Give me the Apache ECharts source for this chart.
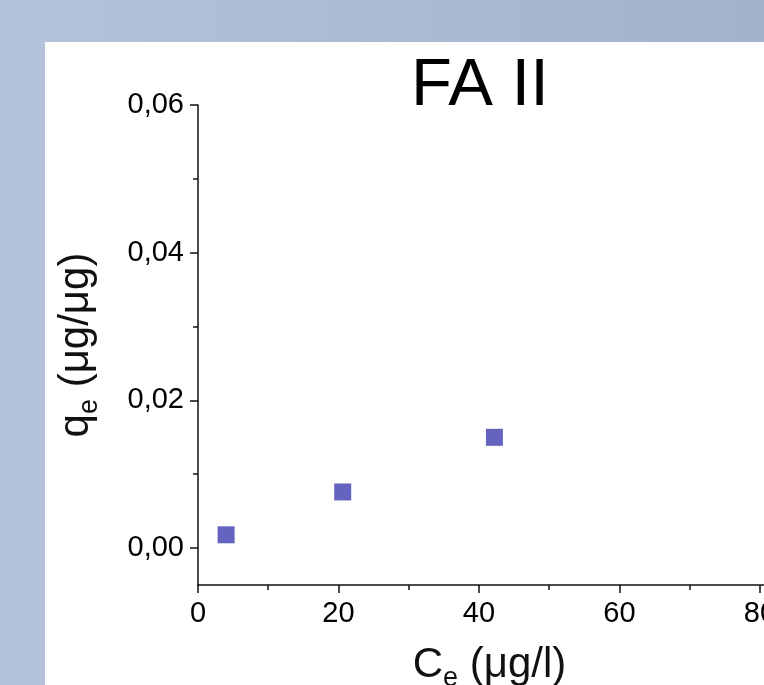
<!DOCTYPE html>
<html>
<head>
<meta charset="utf-8">
<script src="https://cdn.jsdelivr.net/npm/echarts@6/dist/echarts.min.js"></script>
<style>
  html, body { margin: 0; padding: 0; overflow: hidden; }
  #chart { width: 764px; height: 685px; }
</style>
</head>
<body>
<div id="chart"></div>
<script>
// data
const ceValues = [4, 20.6, 42.2];           // C_e (µg/l)
const qeValues = [0.0018, 0.0076, 0.0150];  // q_e (µg/µg)
const xMajorTicks = [0, 20, 40, 60, 80];
const xMinorTicks = [10, 30, 50, 70];
const yMajorTicks = [0, 0.02, 0.04, 0.06];
const yMinorTicks = [0.01, 0.03, 0.05];

const font = 'Liberation Sans';
const ink = '#111';

const points = ceValues.map((x, i) => [x, qeValues[i]]);

const chart = echarts.init(document.getElementById('chart'));

const axisLine = { show: true, onZero: false, lineStyle: { color: ink, width: 1.5 } };
const nameRich = {
  a: { fontFamily: font, fontSize: 42, color: ink, lineHeight: 42, verticalAlign: 'top' },
  b: { fontFamily: font, fontSize: 27, color: ink, lineHeight: 27, verticalAlign: 'top', padding: [21, 0, 0, 0] },
};

chart.setOption({
  animation: false,
  backgroundColor: new echarts.graphic.LinearGradient(0, 0, 1, 0, [
    { offset: 0, color: '#b4c3da' },
    { offset: 1, color: '#a0b3cb' },
  ]),
  graphic: [
    {
      type: 'rect',
      z: -10,
      shape: { x: 45, y: 42, width: 719, height: 643 },
      style: { fill: '#ffffff' },
    },
  ],
  title: {
    text: 'FA II',
    left: 411,
    top: 53,
    padding: 0,
    textStyle: { fontFamily: font, fontSize: 67, fontWeight: 'normal', color: '#000' },
  },
  grid: { left: 198, top: 105, right: -17, bottom: 100, outerBoundsMode: 'none' },
  xAxis: [
    {
      type: 'value',
      min: 0,
      max: 83,
      position: 'bottom',
      axisLine: axisLine,
      axisTick: { show: true, inside: false, length: 8, customValues: xMajorTicks, lineStyle: { color: ink, width: 1.5 } },
      axisLabel: {
        customValues: xMajorTicks,
        fontFamily: font,
        fontSize: 29,
        color: '#000',
        margin: 14,
      },
      splitLine: { show: false },
      name: '{a|C}{b|e}{a| (μg/l)}',
      nameLocation: 'middle',
      nameGap: 59,
      nameTextStyle: { rich: nameRich },
    },
    {
      type: 'value',
      min: 0,
      max: 83,
      position: 'bottom',
      axisLine: { show: false, onZero: false },
      axisTick: { show: true, inside: false, length: 5, customValues: xMinorTicks, lineStyle: { color: ink, width: 1.5 } },
      axisLabel: { show: false },
      splitLine: { show: false },
    },
  ],
  yAxis: [
    {
      type: 'value',
      min: -0.005,
      max: 0.06,
      position: 'left',
      axisLine: axisLine,
      axisTick: { show: true, inside: false, length: 8, customValues: yMajorTicks, lineStyle: { color: ink, width: 1.5 } },
      axisLabel: {
        customValues: yMajorTicks,
        fontFamily: font,
        fontSize: 29,
        color: '#000',
        margin: 14,
        formatter: (v) => v.toFixed(2).replace('.', ','),
      },
      splitLine: { show: false },
      name: '{a|q}{b|e}{a| (μg/μg)}',
      nameLocation: 'middle',
      nameGap: 101,
      nameTextStyle: { rich: nameRich },
    },
    {
      type: 'value',
      min: -0.005,
      max: 0.06,
      position: 'left',
      axisLine: { show: false, onZero: false },
      axisTick: { show: true, inside: false, length: 5, customValues: yMinorTicks, lineStyle: { color: ink, width: 1.5 } },
      axisLabel: { show: false },
      splitLine: { show: false },
    },
  ],
  series: [
    {
      type: 'scatter',
      xAxisIndex: 0,
      yAxisIndex: 0,
      symbol: 'rect',
      symbolSize: 17,
      itemStyle: { color: '#6464c0', opacity: 1 },
      data: points,
    },
  ],
});

window.addEventListener('resize', () => chart.resize());
</script>
</body>
</html>
